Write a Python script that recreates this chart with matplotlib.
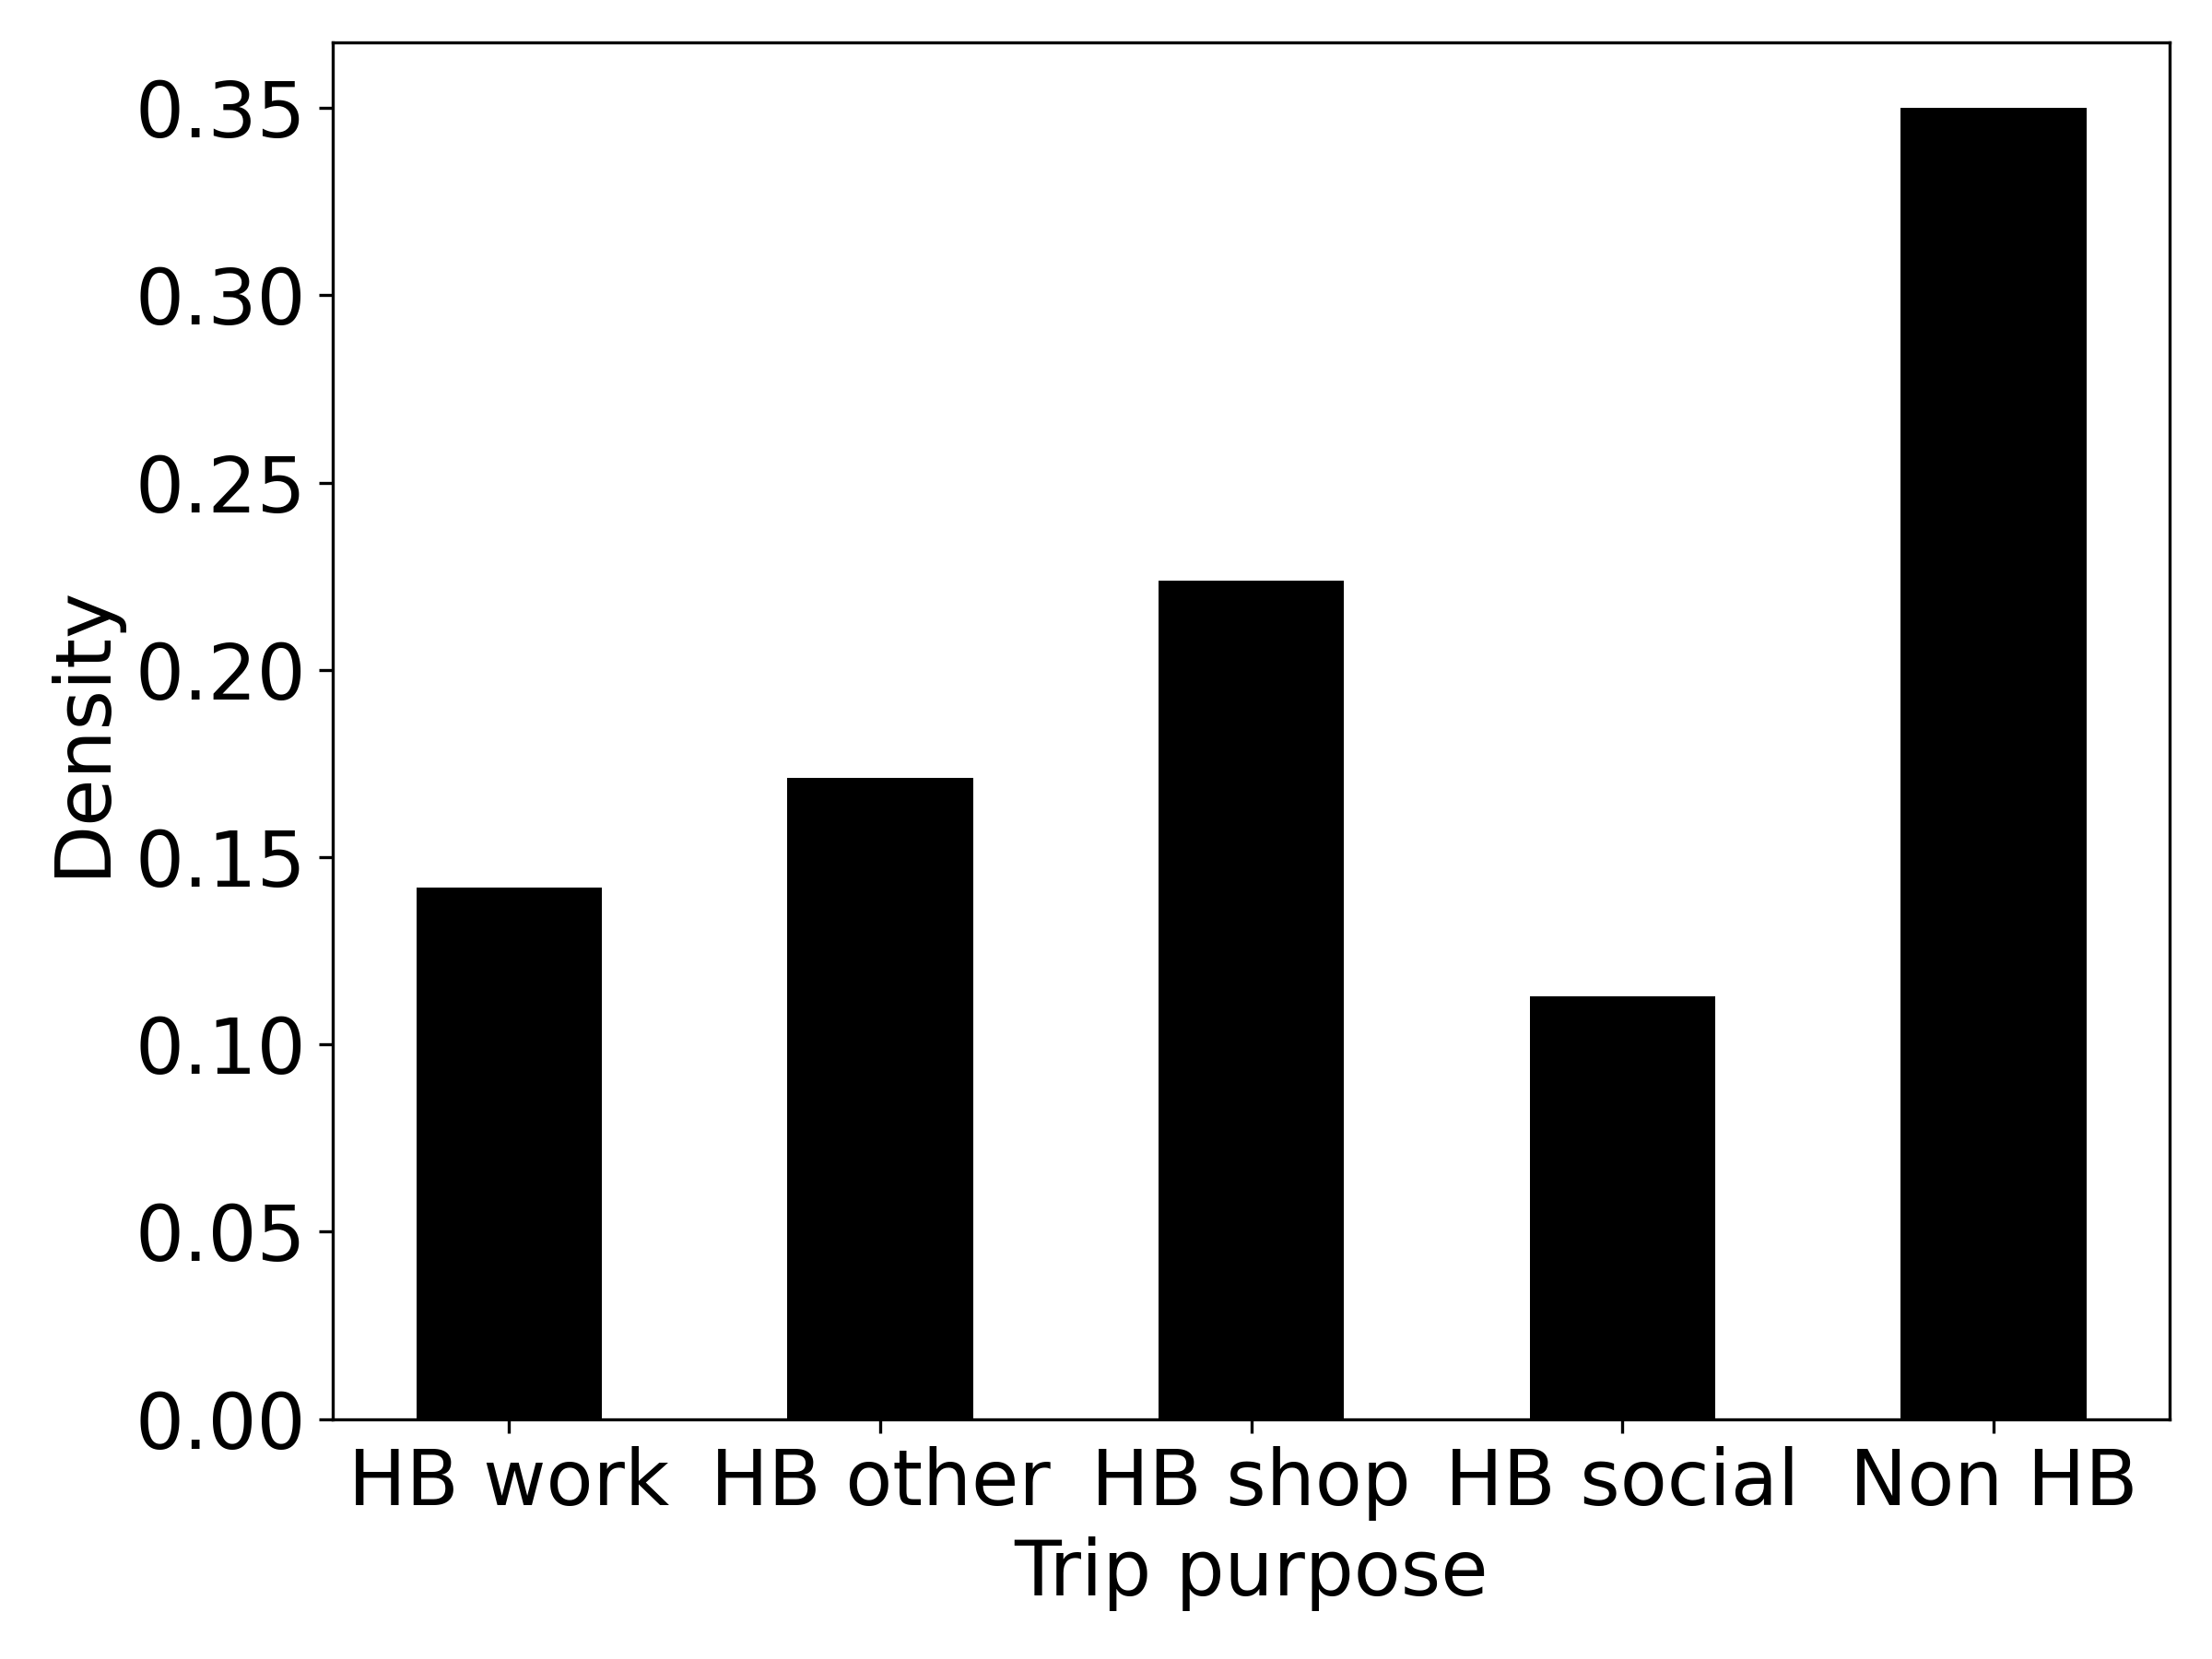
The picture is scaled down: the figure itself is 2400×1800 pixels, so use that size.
import matplotlib
matplotlib.use("Agg")
import matplotlib.pyplot as plt
import numpy as np

# Доли поездок по цели
purposes = ['HB work', 'HB other', 'HB shop', 'HB social', 'Non HB']
density = [0.1419, 0.1712, 0.2239, 0.1129, 0.3500]

plt.rcParams['font.size'] = 20

fig, ax = plt.subplots(figsize=(8, 6), dpi=300)
x = np.arange(len(purposes))
ax.bar(x, density, width=0.5, color='black')
ax.set_xticks(x)
ax.set_xticklabels(purposes)
ax.set_xlabel('Trip purpose')
ax.set_ylabel('Density')
ax.set_yticks(np.arange(0, 0.36, 0.05))
ax.set_yticklabels(['%.2f' % v for v in np.arange(0, 0.36, 0.05)])

plt.subplots_adjust(left=0.1505, right=0.981, top=0.9745, bottom=0.1446)
plt.savefig('out.png', dpi=300)
